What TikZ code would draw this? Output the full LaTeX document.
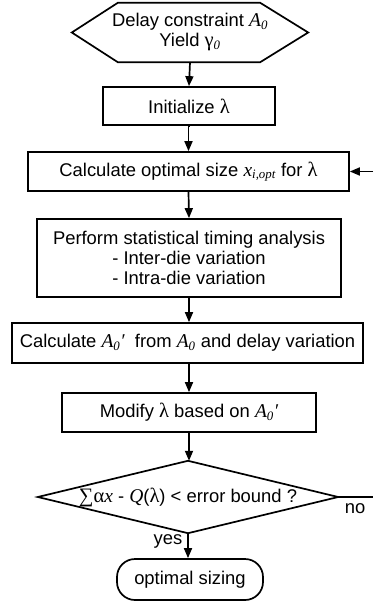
\documentclass[tikz,border=0pt]{standalone}
\usepackage{fontspec}
\setmainfont{Liberation Sans}
\newfontfamily\tms{Liberation Serif}
\usetikzlibrary{arrows.meta}
% italic Times-style symbols and subscripts
\newcommand\mi[1]{{\tms\fontsize{19.5}{20}\selectfont\itshape #1}}
\newcommand\ms[1]{\textsubscript{\tms\itshape #1}}
\newcommand\gr[1]{{\tms\fontsize{20.5}{20}\selectfont #1}}
\begin{document}
\begin{tikzpicture}[x=1pt,y=-1pt,
  every node/.style={font=\fontsize{18.4}{20}\selectfont, inner sep=0pt},
  line/.style={line width=1.7pt},
  flow/.style={line, -{Triangle[length=10pt,width=8pt]}},
  procbox/.style={draw, line width=1.7pt, align=center},
  plain/.style={align=center}]
\useasboundingbox (0,0) rectangle (373,605);

% start: hexagon
\node[plain, minimum width=236pt, minimum height=59pt] (start) at (190,32.5)
  {Delay constraint \mi{A}\ms{0}\\Yield \gr{γ}\ms{0}};
\draw[line] (start.west) -- ([xshift=46pt]start.north west)
  -- ([xshift=-48pt]start.north east) -- (start.east)
  -- ([xshift=-48pt]start.south east) -- ([xshift=46pt]start.south west) -- cycle;

% process steps
\node[procbox, minimum width=172pt, minimum height=38pt] (init) at (189,106)
  {Initialize \gr{λ}};
\node[procbox, minimum width=321pt, minimum height=39pt] (calc) at (188.5,171.5)
  {Calculate optimal size \mi{x}\ms{i,opt} for \gr{λ}};
\node[procbox, minimum width=304pt, minimum height=78pt] (sta) at (189,258)
  {Perform statistical timing analysis\\- Inter-die variation\\- Intra-die variation};
\node[procbox, minimum width=351pt, minimum height=40pt] (calca) at (187.5,343)
  {Calculate \mi{A}\ms{0}\mi{′}\ \ from \mi{A}\ms{0} and delay variation};
\node[procbox, minimum width=254pt, minimum height=39pt] (modl) at (189,412.5)
  {Modify \gr{λ} based on \mi{A}\ms{0}\mi{′}};

% decision: diamond
\node[plain, minimum width=300pt, minimum height=72pt] (test) at (188,497)
  {\gr{∑α}\mi{x} - \mi{Q}(\gr{λ}) < error bound ?};
\draw[line] (test.west) -- (test.north) -- (test.east) -- (test.south) -- cycle;

% end: terminal
\node[draw, line width=1.7pt, rounded corners=18pt, minimum width=146pt,
  minimum height=41pt] (done) at (190,579.5) {optimal sizing};

% connectors
\draw[flow] (start.south) -- (init.north);
\draw[flow] (init.south) -- (calc.south |- init.south) -- (calc.north);
\draw[flow] (calc.south) -- (sta.north);
\draw[flow] (sta.south) -- (calca.north -| sta.south);
\draw[flow] (calca.south -| modl.north) -- (modl.north);
\draw[flow] (modl.south) -- (test.north -| modl.south);
\draw[flow] (test.south) -- (done.north -| test.south);

% loop back on "no"
\coordinate (noend) at (373,497);
\coordinate (loopin) at (373,171.5);
\draw[line] (test.east) -- (noend);
\draw[flow] (loopin) -- (calc.east);

% branch labels
\node (no) at (355,509) {no};
\node (yes) at (168,541) {yes};
\end{tikzpicture}
\end{document}
